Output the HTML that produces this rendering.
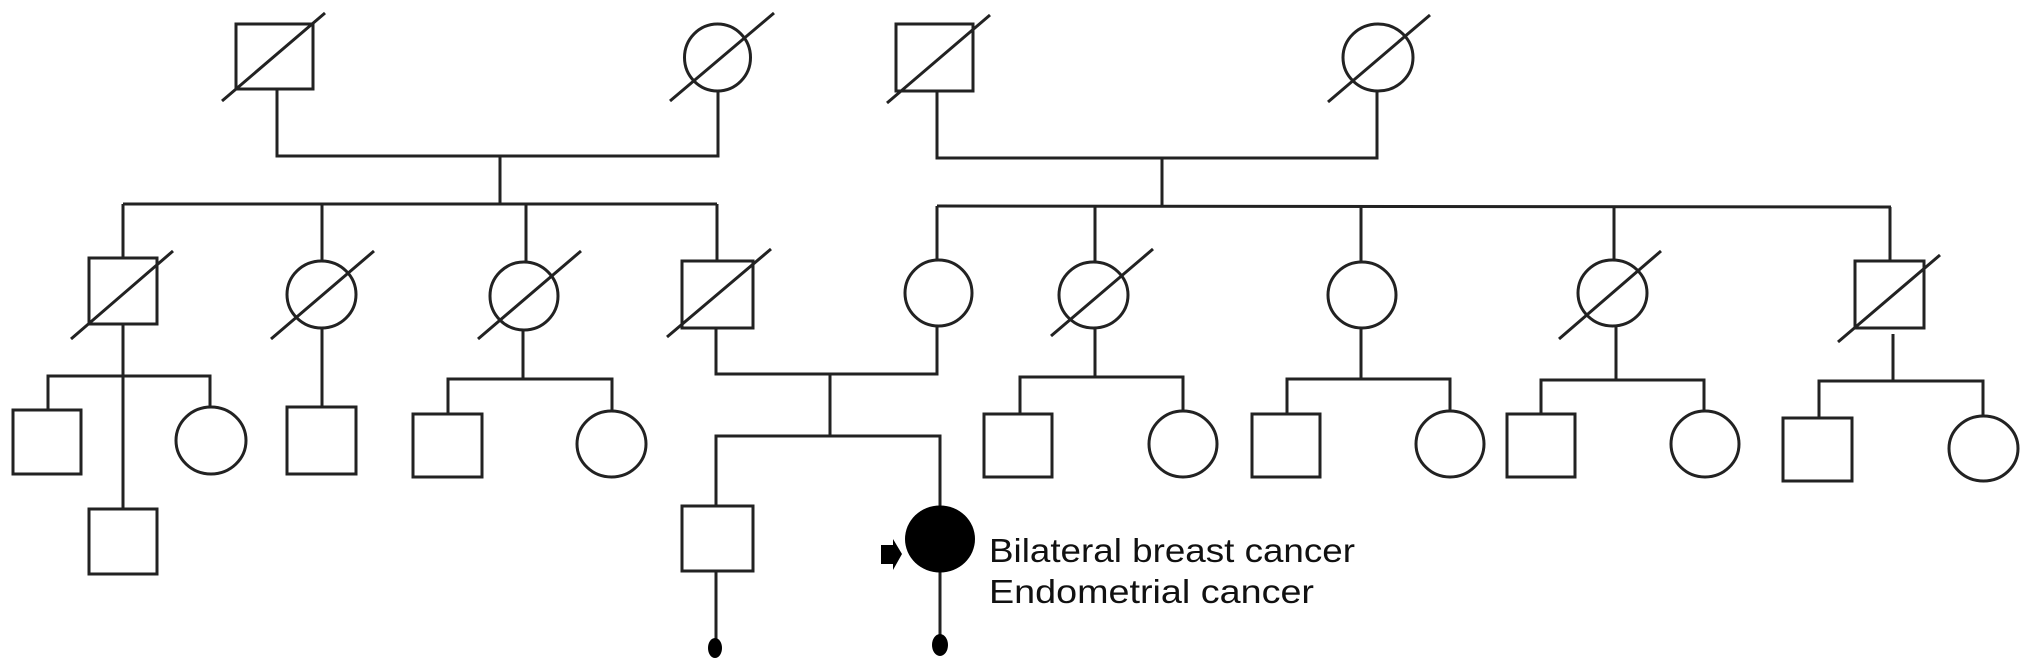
<!DOCTYPE html>
<html><head><meta charset="utf-8"><style>html,body{margin:0;padding:0;background:#fff}svg{display:block}</style></head>
<body>
<svg width="2031" height="672" viewBox="0 0 2031 672" xmlns="http://www.w3.org/2000/svg">
<g fill="none" stroke="#222" stroke-width="3">
<!-- Gen1 -->
<rect x="236" y="24" width="77" height="65"/><line x1="222" y1="101" x2="325" y2="13"/>
<ellipse cx="717.5" cy="57.5" rx="33" ry="33.5"/><line x1="670" y1="101" x2="774" y2="13"/>
<rect x="896" y="24" width="77" height="67"/><line x1="887" y1="103" x2="990" y2="15"/>
<ellipse cx="1378" cy="57.5" rx="35" ry="33.5"/><line x1="1328" y1="102" x2="1430" y2="15"/>
<polyline points="277,89 277,156 718,156 718,91"/><line x1="500" y1="156" x2="500" y2="204"/>
<polyline points="937,91 937,158 1377,158 1377,91"/><line x1="1162" y1="158" x2="1162" y2="206"/>
<line x1="123" y1="204" x2="717" y2="204"/>
<line x1="937" y1="206" x2="1891" y2="207"/>
<line x1="123" y1="204" x2="123" y2="258"/><line x1="322" y1="204" x2="322" y2="261"/>
<line x1="526" y1="204" x2="526" y2="262"/><line x1="717" y1="204" x2="717" y2="261"/>
<line x1="937" y1="206" x2="937" y2="260"/><line x1="1095" y1="206" x2="1095" y2="262"/>
<line x1="1361" y1="206" x2="1361" y2="262"/><line x1="1614" y1="206" x2="1614" y2="260"/>
<line x1="1890" y1="207" x2="1890" y2="261"/>
<!-- Gen2 -->
<rect x="89" y="258" width="68" height="66"/><line x1="71" y1="339" x2="173" y2="251"/>
<ellipse cx="321.5" cy="294.5" rx="34.5" ry="33.5"/><line x1="271" y1="339" x2="374" y2="251"/>
<ellipse cx="524" cy="296" rx="34" ry="34"/><line x1="478" y1="339" x2="581" y2="251"/>
<rect x="682" y="261" width="71" height="67"/><line x1="667" y1="337" x2="771" y2="249"/>
<ellipse cx="938.5" cy="293" rx="33.5" ry="33"/>
<ellipse cx="1093.5" cy="295" rx="34.5" ry="33"/><line x1="1051" y1="336" x2="1153" y2="249"/>
<ellipse cx="1362" cy="295" rx="34" ry="33"/>
<ellipse cx="1612.5" cy="293" rx="34.5" ry="33"/><line x1="1559" y1="339" x2="1661" y2="251"/>
<rect x="1855" y="261" width="69" height="67"/><line x1="1838" y1="342" x2="1940" y2="255"/>
<!-- Gen3 left -->
<line x1="123" y1="324" x2="123" y2="509"/>
<polyline points="48,409 48,376 210,376 210,407"/>
<rect x="13" y="410" width="68" height="64"/>
<ellipse cx="211" cy="440.5" rx="35" ry="33.5"/>
<rect x="89" y="509" width="68" height="65"/>
<line x1="322" y1="328" x2="322" y2="407"/>
<rect x="287" y="407" width="69" height="67"/>
<line x1="523" y1="330" x2="523" y2="379"/>
<polyline points="448,414 448,379 612,379 612,411"/>
<rect x="413" y="414" width="69" height="63"/>
<ellipse cx="611.5" cy="444" rx="34.5" ry="33"/>
<!-- proband family -->
<polyline points="716,328 716,374 937,374 937,326"/>
<line x1="830" y1="374" x2="830" y2="436"/>
<polyline points="716,506 716,436 940,436 940,506"/>
<rect x="682" y="506" width="71" height="65"/>
<line x1="716" y1="571" x2="716" y2="640"/>
<line x1="940" y1="572" x2="940" y2="636"/>
<!-- Gen3 right -->
<line x1="1095" y1="328" x2="1095" y2="377"/>
<polyline points="1020,414 1020,377 1183,377 1183,411"/>
<rect x="984" y="414" width="68" height="63"/>
<ellipse cx="1183" cy="444" rx="34" ry="33"/>
<line x1="1361" y1="328" x2="1361" y2="379"/>
<polyline points="1287,414 1287,379 1450,379 1450,411"/>
<rect x="1252" y="414" width="68" height="63"/>
<ellipse cx="1450" cy="444" rx="34" ry="33"/>
<line x1="1616" y1="326" x2="1616" y2="380"/>
<polyline points="1541,414 1541,380 1704,380 1704,411"/>
<rect x="1507" y="414" width="68" height="63"/>
<ellipse cx="1705" cy="444" rx="34" ry="33"/>
<line x1="1893" y1="334" x2="1893" y2="381"/>
<polyline points="1819,418 1819,381 1983,381 1983,416"/>
<rect x="1783" y="418" width="69" height="63"/>
<ellipse cx="1983.5" cy="448.5" rx="34.5" ry="32.5"/>
</g>
<ellipse cx="940" cy="539" rx="35" ry="33.5" fill="#000"/>
<ellipse cx="715" cy="648" rx="7" ry="10" fill="#000"/>
<ellipse cx="940" cy="645" rx="8" ry="11" fill="#000"/>
<polygon points="881,545 893,545 893,539 902,554 893,570 893,564 881,564" fill="#000"/>
<g font-family="Liberation Sans, Arial, sans-serif" font-size="33" fill="#111">
<text x="989" y="562" textLength="366" lengthAdjust="spacingAndGlyphs">Bilateral breast cancer</text>
<text x="989" y="603" textLength="325" lengthAdjust="spacingAndGlyphs">Endometrial cancer</text>
</g>
</svg>
</body></html>
